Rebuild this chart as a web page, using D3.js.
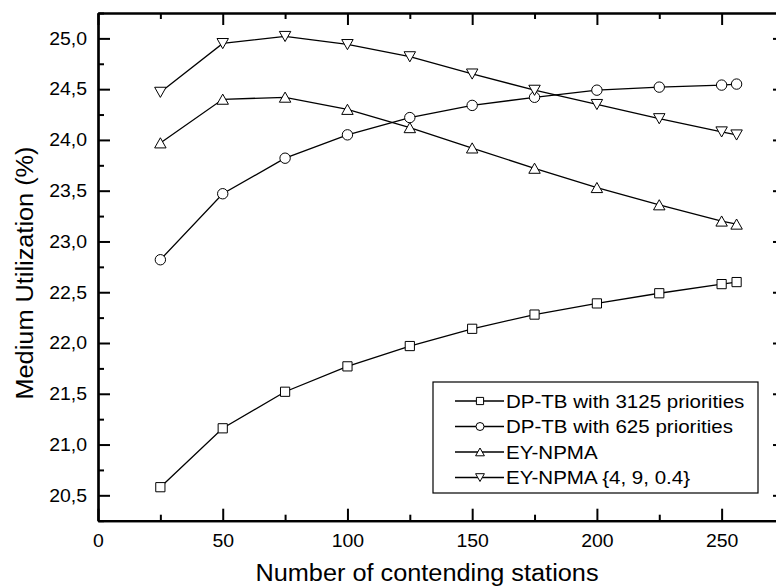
<!DOCTYPE html>
<html>
<head>
<meta charset="utf-8">
<script src="https://cdn.jsdelivr.net/npm/d3@7"></script>
<style>
  body { margin: 0; background: #fff; }
  svg { font-family: "Liberation Sans", Arial, sans-serif; }
</style>
</head>
<body>
<div id="chart"></div>
<script>
// Data
var stations = [25, 50, 75, 100, 125, 150, 175, 200, 225, 250, 256];
var dptb3125 = [20.58, 21.16, 21.52, 21.77, 21.97, 22.14, 22.28, 22.39, 22.49, 22.58, 22.60];
var dptb625 = [22.82, 23.47, 23.82, 24.05, 24.22, 24.34, 24.42, 24.49, 24.52, 24.54, 24.55];
var eynpma = [23.97, 24.40, 24.42, 24.30, 24.12, 23.92, 23.72, 23.53, 23.36, 23.20, 23.17];
var eynpma490 = [24.47, 24.95, 25.02, 24.94, 24.82, 24.65, 24.49, 24.35, 24.21, 24.08, 24.05];
var seriesNames = ["DP-TB with 3125 priorities", "DP-TB with 625 priorities", "EY-NPMA", "EY-NPMA {4, 9, 0.4}"];
var xTicks = [0, 50, 100, 150, 200, 250];
var yTicks = [20.5, 21.0, 21.5, 22.0, 22.5, 23.0, 23.5, 24.0, 24.5, 25.0];

var svgWidth = 776;
var svgHeight = 588;

var svg = d3.select("#chart")
  .append("svg")
  .attr("width", svgWidth)
  .attr("height", svgHeight);

// Scales
var xScale = d3.scaleLinear().domain([0, 273]).range([98, 779]);
var yScale = d3.scaleLinear().domain([20.25, 25.25]).range([520.7, 13]);

var comma = d3.formatLocale({decimal: ",", thousands: ".", grouping: [3], currency: ["", ""]}).format(".1f");

// the original font is a bit wider than Liberation Sans, stretch text to fit
function stretch(sel, k) {
  sel.each(function() {
    var len = this.getComputedTextLength();
    d3.select(this).attr("textLength", len * k).attr("lengthAdjust", "spacingAndGlyphs");
  });
}

// Marker shapes
var shapes = {
  square: function(s) { return `M${-s},${-s}h${2*s}v${2*s}h${-2*s}Z`; },
  circle: function(s) { return `M${s},0A${s},${s} 0 1,1 ${-s},0A${s},${s} 0 1,1 ${s},0Z`; },
  up: function(s) { return `M0,${-s}L${s*1.1},${s*0.95}L${-s*1.1},${s*0.95}Z`; },
  down: function(s) { return `M0,${s}L${s*1.1},${-s*0.95}L${-s*1.1},${-s*0.95}Z`; }
};

var series = [
  {name: seriesNames[0], values: dptb3125, shape: "square", size: 4.6},
  {name: seriesNames[1], values: dptb625, shape: "circle", size: 5.2},
  {name: seriesNames[2], values: eynpma, shape: "up", size: 5.2},
  {name: seriesNames[3], values: eynpma490, shape: "down", size: 5.2}
];

var line = d3.line()
  .x(function(d, i) { return xScale(stations[i]); })
  .y(function(d) { return yScale(d); });

// Lines
svg.append("g").selectAll("path")
  .data(series)
  .enter()
  .append("path")
  .attr("d", function(s) { return line(s.values); })
  .attr("fill", "none")
  .attr("stroke", "#000")
  .attr("stroke-width", 1.3);

// Markers
series.forEach(function(s) {
  svg.append("g").selectAll("path")
    .data(s.values)
    .enter()
    .append("path")
    .attr("transform", function(d, i) { return `translate(${xScale(stations[i])},${yScale(d)})`; })
    .attr("d", shapes[s.shape](s.size))
    .attr("fill", "#fff")
    .attr("stroke", "#000")
    .attr("stroke-width", 1);
});

// Axes (ticks inside)
var xMinor = d3.range(25, 275, 50);
var yMinor = d3.range(20.25, 25.3, 0.5);

var bottomG = svg.append("g").attr("transform", `translate(0,${yScale.range()[0]})`);
bottomG.call(d3.axisBottom(xScale).tickValues(xTicks).tickSizeInner(-12).tickSizeOuter(0).tickFormat(d3.format("d")));
bottomG.append("g").call(d3.axisBottom(xScale).tickValues(xMinor).tickSizeInner(-6).tickSizeOuter(0).tickFormat(""));

var topG = svg.append("g").attr("transform", `translate(0,${yScale.range()[1]})`);
topG.call(d3.axisTop(xScale).tickValues(xTicks).tickSizeInner(-12).tickSizeOuter(0).tickFormat(""));
topG.append("g").call(d3.axisTop(xScale).tickValues(xMinor).tickSizeInner(-6).tickSizeOuter(0).tickFormat(""));

var leftG = svg.append("g").attr("transform", `translate(${xScale.range()[0]},0)`);
leftG.call(d3.axisLeft(yScale).tickValues(yTicks).tickSizeInner(-12).tickSizeOuter(0).tickFormat(comma));
leftG.append("g").call(d3.axisLeft(yScale).tickValues(yMinor).tickSizeInner(-6).tickSizeOuter(0).tickFormat(""));

var rightG = svg.append("g").attr("transform", `translate(${xScale.range()[1]},0)`);
rightG.call(d3.axisRight(yScale).tickValues(yTicks).tickSizeInner(-6).tickSizeOuter(0).tickFormat(""));

svg.selectAll(".domain").attr("stroke", "#000").attr("stroke-width", 2.2);
svg.selectAll(".tick line").attr("stroke", "#000").attr("stroke-width", 2);

bottomG.selectAll(".tick text")
  .attr("y", 14)
  .attr("font-size", 18)
  .attr("font-family", "Liberation Sans, Arial, sans-serif")
  .attr("fill", "#000")
  .call(stretch, 1.08);
leftG.selectAll(".tick text")
  .attr("x", -11)
  .attr("font-size", 18)
  .attr("font-family", "Liberation Sans, Arial, sans-serif")
  .attr("fill", "#000")
  .call(stretch, 1.08);

// Axis titles
svg.append("text")
  .attr("x", 427)
  .attr("y", 581)
  .attr("text-anchor", "middle")
  .attr("font-size", 23)
  .text("Number of contending stations")
  .call(stretch, 1.1);

svg.append("text")
  .attr("transform", "rotate(-90)")
  .attr("x", -273)
  .attr("y", 33)
  .attr("text-anchor", "middle")
  .attr("font-size", 23)
  .text("Medium Utilization (%)")
  .call(stretch, 1.1);

// Legend
var legend = svg.append("g").attr("transform", "translate(433,382)");
legend.append("rect")
  .attr("width", 325)
  .attr("height", 111)
  .attr("fill", "#fff")
  .attr("stroke", "#000")
  .attr("stroke-width", 1.2);

var rows = legend.selectAll("g.row")
  .data(series)
  .enter()
  .append("g")
  .attr("class", "row")
  .attr("transform", function(d, i) { return `translate(0,${19 + i * 25.5})`; });

rows.append("line")
  .attr("x1", 22).attr("x2", 71)
  .attr("stroke", "#000").attr("stroke-width", 1.3);
rows.append("path")
  .attr("transform", "translate(47,0)")
  .attr("d", function(s) { return shapes[s.shape](s.shape === "square" ? 3.6 : 4); })
  .attr("fill", "#fff")
  .attr("stroke", "#000")
  .attr("stroke-width", 1);
rows.append("text")
  .attr("x", 73)
  .attr("dy", "0.36em")
  .attr("font-size", 19)
  .text(function(s) { return s.name; })
  .call(stretch, 1.08);
</script>
</body>
</html>
